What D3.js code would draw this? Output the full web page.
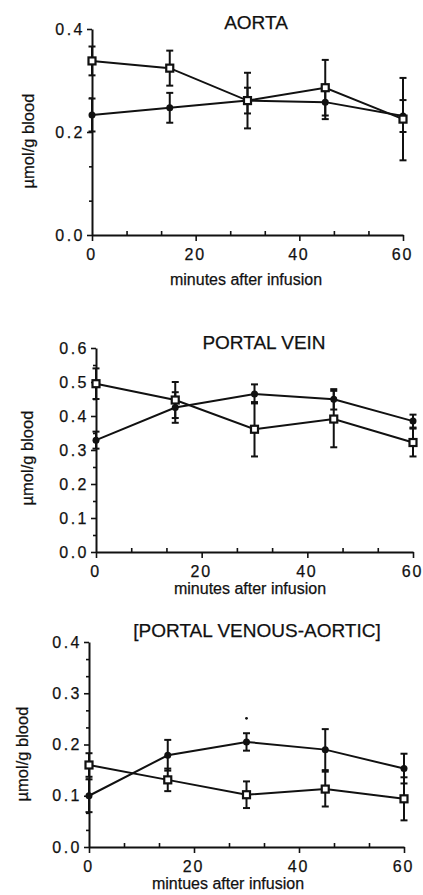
<!DOCTYPE html>
<html>
<head>
<meta charset="utf-8">
<script src="https://cdn.jsdelivr.net/npm/d3@7"></script>
<style>
  body { margin: 0; background: #fff; }
  svg { display: block; }
  text { font-family: "Liberation Sans", Arial, sans-serif; fill: #111; stroke: #111; stroke-width: 0.25; }
</style>
</head>
<body>
<svg width="423" height="895"></svg>
<script>
// time points (minutes after infusion)
var minutes = [0, 15, 30, 45, 60];
var xTicks = [0, 20, 40, 60];

// AORTA
var aortaOpen = [0.338, 0.324, 0.261, 0.286, 0.225];
var aortaOpenErr = [0.028, 0.034, 0.054, 0.054, 0.080];
var aortaFilled = [0.233, 0.247, 0.261, 0.258, 0.231];
var aortaFilledErr = [0.032, 0.029, 0.025, 0.033, 0.031];

// PORTAL VEIN
var portalOpen = [0.495, 0.447, 0.361, 0.391, 0.322];
var portalOpenErr = [0.045, 0.053, 0.080, 0.083, 0.041];
var portalFilled = [0.329, 0.425, 0.465, 0.449, 0.385];
var portalFilledErr = [0.025, 0.045, 0.028, 0.030, 0.019];

// [PORTAL VENOUS-AORTIC]
var diffOpen = [0.160, 0.131, 0.102, 0.113, 0.094];
var diffOpenErr = [0.023, 0.022, 0.026, 0.034, 0.042];
var diffFilled = [0.100, 0.179, 0.205, 0.190, 0.153];
var diffFilledErr = [0.032, 0.030, 0.017, 0.040, 0.029];
var diffStar = {minute: 30, value: 0.251};

var svg = d3.select("svg");

var panels = [
  {title: "AORTA", xTitle: "minutes after infusion", yMax: 0.4, yMajor: [0, 0.2, 0.4], yMinorStep: 0.2 / 3,
   open: aortaOpen, openErr: aortaOpenErr, filled: aortaFilled, filledErr: aortaFilledErr,
   x0: 92, x1: 403, y0: 235, y1: 29, titleX: 256, titleY: 29, xTitleX: 246, xTitleY: 285, yTitleX: 28, yTitleY: 141},
  {title: "PORTAL VEIN", xTitle: "minutes after infusion", yMax: 0.6, yMajor: [0, 0.1, 0.2, 0.3, 0.4, 0.5, 0.6], yMinorStep: 0.05,
   open: portalOpen, openErr: portalOpenErr, filled: portalFilled, filledErr: portalFilledErr,
   x0: 96, x1: 413, y0: 552, y1: 348, titleX: 264, titleY: 349, xTitleX: 250, xTitleY: 594, yTitleX: 27, yTitleY: 458},
  {title: "[PORTAL VENOUS-AORTIC]", xTitle: "mintues after infusion", yMax: 0.4, yMajor: [0, 0.1, 0.2, 0.3, 0.4], yMinorStep: 0.1 / 3,
   open: diffOpen, openErr: diffOpenErr, filled: diffFilled, filledErr: diffFilledErr, star: diffStar,
   x0: 89, x1: 404, y0: 847, y1: 642, titleX: 257, titleY: 637, xTitleX: 228, xTitleY: 889, yTitleX: 22, yTitleY: 754}
];

panels.forEach(function(p) {
  var x = d3.scaleLinear().domain([0, 60]).range([p.x0, p.x1]);
  var y = d3.scaleLinear().domain([0, p.yMax]).range([p.y0, p.y1]);
  var g = svg.append("g");

  // minor ticks
  var xMinor = d3.range(0, 60.01, 20 / 3).filter(function(v) { return xTicks.indexOf(Math.round(v * 100) / 100) < 0; });
  var yMinor = d3.range(0, p.yMax + 1e-9, p.yMinorStep).filter(function(v) {
    return !p.yMajor.some(function(m) { return Math.abs(m - v) < 1e-6; });
  });

  g.append("g")
      .attr("transform", "translate(0," + p.y0 + ")")
      .call(d3.axisBottom(x).tickValues(xMinor).tickSize(-4).tickFormat(""))
      .call(function(a) { a.select(".domain").remove(); });
  g.append("g")
      .attr("transform", "translate(" + p.x0 + ",0)")
      .call(d3.axisLeft(y).tickValues(yMinor).tickSize(3).tickFormat(""))
      .call(function(a) { a.select(".domain").remove(); });

  // major axes
  var xAxis = g.append("g")
      .attr("transform", "translate(0," + p.y0 + ")")
      .call(d3.axisBottom(x).tickValues(xTicks).tickSize(6).tickSizeOuter(0).tickPadding(8));
  var yAxis = g.append("g")
      .attr("transform", "translate(" + p.x0 + ",0)")
      .call(d3.axisLeft(y).tickValues(p.yMajor).tickSize(5).tickSizeOuter(0).tickPadding(2).tickFormat(d3.format(".1f")));

  g.selectAll(".domain").attr("stroke", "#111").attr("stroke-width", 2);
  g.selectAll(".tick line").attr("stroke", "#111").attr("stroke-width", 1.6);
  xAxis.selectAll("text").attr("font-size", 16).attr("letter-spacing", 1.8).attr("dx", -1).attr("fill", "#111");
  yAxis.selectAll("text").attr("font-size", 16).attr("letter-spacing", 2.5).attr("fill", "#111");

  // titles
  g.append("text")
      .attr("x", p.titleX).attr("y", p.titleY)
      .attr("text-anchor", "middle").attr("font-size", 19)
      .text(p.title);
  g.append("text")
      .attr("x", p.xTitleX).attr("y", p.xTitleY)
      .attr("text-anchor", "middle").attr("font-size", 16)
      .text(p.xTitle);
  g.append("text")
      .attr("transform", "translate(" + p.yTitleX + "," + p.yTitleY + ") rotate(-90)")
      .attr("text-anchor", "middle").attr("dy", "0.35em").attr("font-size", 16.5)
      .text("\u00b5mol/g blood");

  var line = d3.line()
      .x(function(d, i) { return x(minutes[i]); })
      .y(function(d) { return y(d); });

  [[p.filled, p.filledErr], [p.open, p.openErr]].forEach(function(s) {
    g.append("path")
        .datum(s[0])
        .attr("fill", "none").attr("stroke", "#111").attr("stroke-width", 2)
        .attr("d", line);

    var eb = g.append("g").selectAll("g")
        .data(s[0]).enter().append("g")
        .attr("stroke", "#111").attr("stroke-width", 2);
    eb.append("line")
        .attr("x1", function(d, i) { return x(minutes[i]); })
        .attr("x2", function(d, i) { return x(minutes[i]); })
        .attr("y1", function(d, i) { return y(d + s[1][i]); })
        .attr("y2", function(d, i) { return y(d - s[1][i]); });
    [1, -1].forEach(function(sign) {
      eb.append("line")
          .attr("x1", function(d, i) { return x(minutes[i]) - 3.5; })
          .attr("x2", function(d, i) { return x(minutes[i]) + 3.5; })
          .attr("y1", function(d, i) { return y(d + sign * s[1][i]); })
          .attr("y2", function(d, i) { return y(d + sign * s[1][i]); });
    });
  });

  // filled markers
  g.selectAll(".filled")
      .data(p.filled).enter().append("circle")
      .attr("cx", function(d, i) { return x(minutes[i]); })
      .attr("cy", function(d) { return y(d); })
      .attr("r", 3.5)
      .attr("fill", "#111");

  // open square markers
  g.selectAll(".open")
      .data(p.open).enter().append("rect")
      .attr("x", function(d, i) { return x(minutes[i]) - 3.5; })
      .attr("y", function(d) { return y(d) - 3.5; })
      .attr("width", 7).attr("height", 7)
      .attr("fill", "#fff").attr("stroke", "#111").attr("stroke-width", 2.2);

  if (p.star) {
    g.append("circle")
        .attr("cx", x(p.star.minute)).attr("cy", y(p.star.value))
        .attr("r", 1.4).attr("fill", "#111");
  }
});
</script>
</body>
</html>
